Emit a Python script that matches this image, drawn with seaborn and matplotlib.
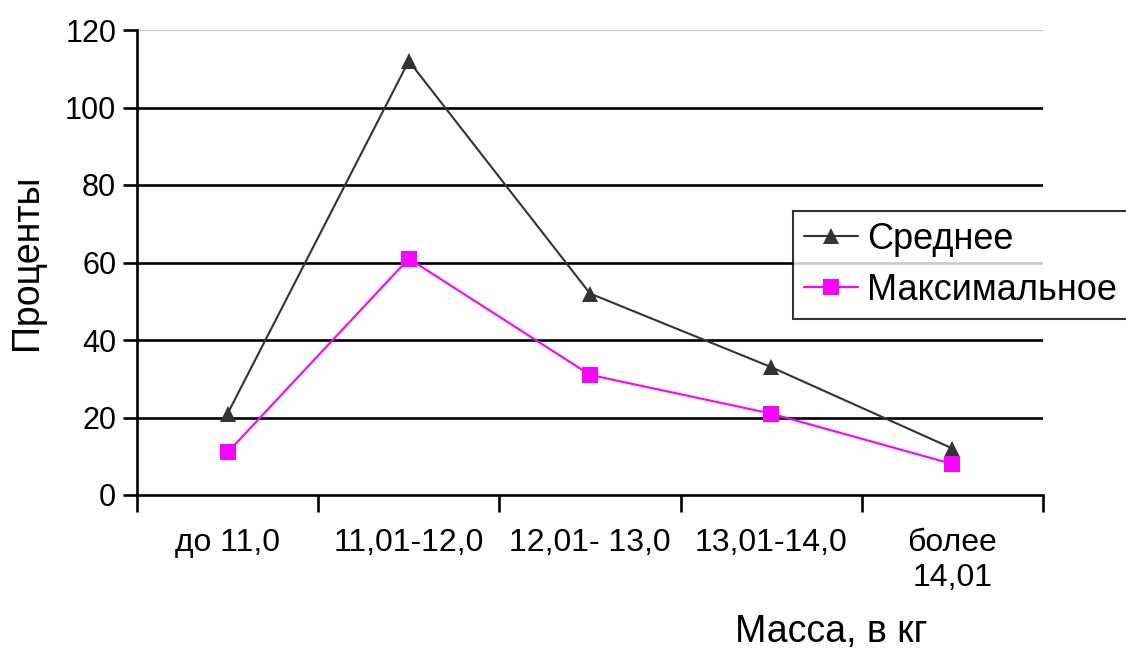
import numpy as np
import pandas as pd
import matplotlib
matplotlib.use("Agg")
import matplotlib.pyplot as plt
import seaborn as sns

categories = ["до 11,0", "11,01-12,0", "12,01- 13,0", "13,01-14,0", "более\n14,01"]
srednee = [21, 112, 52, 33, 12]
maksimalnoe = [11, 61, 31, 21, 8]
series_names = ["Среднее", "Максимальное"]
y_ticks = [0, 20, 40, 60, 80, 100, 120]

sns.set_style("white")
plt.rcParams['font.family'] = ['Liberation Sans', 'DejaVu Sans']
plt.rcParams['text.color'] = 'black'
plt.rcParams['axes.labelcolor'] = 'black'
plt.rcParams['xtick.color'] = 'black'
plt.rcParams['ytick.color'] = 'black'

df = pd.DataFrame({
    "cat": categories * 2,
    "value": srednee + maksimalnoe,
    "series": [series_names[0]] * len(categories) + [series_names[1]] * len(categories),
})

fig = plt.figure(figsize=(11.26, 6.48), dpi=100)
ax = fig.add_axes([137 / 1126, 1 - 495 / 648, 906 / 1126, 465 / 648])

# horizontal gridlines first so the lines sit on top
for y in y_ticks[1:-1]:
    ax.axhline(y, color="black", lw=1.9, zorder=1)
ax.axhline(120, color="#c8c8c8", lw=0.8, zorder=1)

sns.lineplot(data=df, x="cat", y="value", hue="series", style="series",
             palette={series_names[0]: "#333333", series_names[1]: "#ff00ff"},
             markers={series_names[0]: "^", series_names[1]: "s"},
             dashes=False, linewidth=1.5, markersize=11, markeredgewidth=0,
             ax=ax, zorder=3, legend=True)

ax.set_xlim(-0.5, 4.5)
ax.set_ylim(0, 120)
ax.set_yticks(y_ticks)
ax.set_xticks(range(len(categories)))
ax.set_xticklabels(categories, fontsize=23)
ax.set_xticks(np.arange(-0.5, 5, 1.0), minor=True)
ax.tick_params(axis="x", which="major", length=0, pad=24)
ax.tick_params(axis="x", which="minor", length=12, width=1.9, direction="out", color="black")
ax.tick_params(axis="y", length=10, width=1.9, direction="out", color="black", labelsize=22, pad=5)
ax.tick_params(axis="y", which="major", left=True)
ax.tick_params(axis="x", which="minor", bottom=True)

for s in ["top", "right"]:
    ax.spines[s].set_visible(False)
for s in ["left", "bottom"]:
    ax.spines[s].set_color("black")
    ax.spines[s].set_linewidth(1.9)

ax.set_ylabel("Проценты", fontsize=27)
ax.yaxis.set_label_coords(-0.1015, 0.5)
ax.set_xlabel("Масса, в кг", fontsize=27)
ax.xaxis.set_label_coords(0.766, -0.255)

handles, labels = ax.get_legend_handles_labels()
leg = ax.legend(handles, labels, loc="upper left",
                bbox_to_anchor=(793 / 1126, 1 - 211 / 648), bbox_transform=fig.transFigure,
                fontsize=26, frameon=True, fancybox=False, shadow=False,
                handlelength=1.5, handletextpad=0.25, borderpad=0.3,
                labelspacing=0.45, borderaxespad=0)
leg.get_frame().set_edgecolor("black")
leg.get_frame().set_linewidth(1.5)
leg.set_zorder(5)

fig.savefig("out.png", dpi=100)
